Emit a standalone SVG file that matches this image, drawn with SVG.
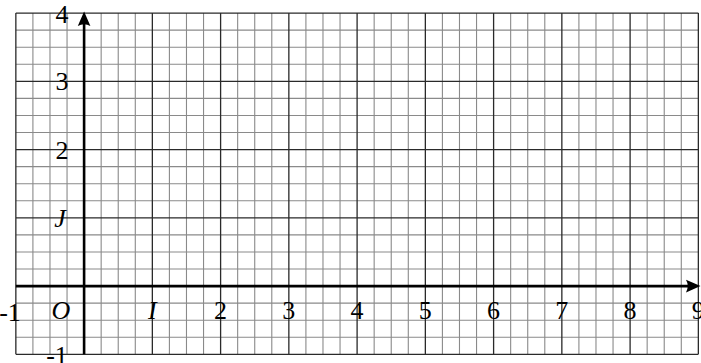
<svg xmlns="http://www.w3.org/2000/svg" width="701" height="363" viewBox="0 0 701 363">
<style>
.minor{stroke:#8a8a8a;stroke-width:1.1;fill:none}
.major{stroke:#2a2a2a;stroke-width:1.3;fill:none}
.axis{stroke:#000;stroke-width:2.6;fill:none}
.head{fill:#000;stroke:none}
text{font-family:"Liberation Serif","DejaVu Serif",serif;font-size:26px;fill:#000;text-anchor:middle}
.it{font-style:italic}
</style>
<rect width="701" height="363" fill="#fff"/>
<g id="grid">
<path class="minor" d="M32.91 13.1V354.35M49.98 13.1V354.35M67.04 13.1V354.35M101.16 13.1V354.35M118.23 13.1V354.35M135.29 13.1V354.35M169.41 13.1V354.35M186.48 13.1V354.35M203.54 13.1V354.35M237.66 13.1V354.35M254.73 13.1V354.35M271.79 13.1V354.35M305.91 13.1V354.35M322.98 13.1V354.35M340.04 13.1V354.35M374.16 13.1V354.35M391.23 13.1V354.35M408.29 13.1V354.35M442.41 13.1V354.35M459.48 13.1V354.35M476.54 13.1V354.35M510.66 13.1V354.35M527.73 13.1V354.35M544.79 13.1V354.35M578.91 13.1V354.35M595.98 13.1V354.35M613.04 13.1V354.35M647.16 13.1V354.35M664.23 13.1V354.35M681.29 13.1V354.35M15.85 30.16H698.35M15.85 47.23H698.35M15.85 64.29H698.35M15.85 98.41H698.35M15.85 115.48H698.35M15.85 132.54H698.35M15.85 166.66H698.35M15.85 183.73H698.35M15.85 200.79H698.35M15.85 234.91H698.35M15.85 251.98H698.35M15.85 269.04H698.35M15.85 303.16H698.35M15.85 320.23H698.35M15.85 337.29H698.35"/>
<path class="major" d="M15.85 13.1V354.35M84.1 13.1V354.35M152.35 13.1V354.35M220.6 13.1V354.35M288.85 13.1V354.35M357.1 13.1V354.35M425.35 13.1V354.35M493.6 13.1V354.35M561.85 13.1V354.35M630.1 13.1V354.35M698.35 13.1V354.35M15.85 13.1H698.35M15.85 81.35H698.35M15.85 149.6H698.35M15.85 217.85H698.35M15.85 286.1H698.35M15.85 354.35H698.35"/>
</g>
<g id="axes">
<path class="axis" d="M15.85 286.1H691"/>
<path class="head" d="M700.5 286.1L686 279.8Q689.5 286.1 686 292.4Z"/>
<path class="axis" d="M84.1 354.35V20"/>
<path class="head" d="M84.1 11.5L77.8 26Q84.1 22.5 90.4 26Z"/>
</g>
<g id="labels">
<text x="62" y="22.5">4</text>
<text x="62" y="90">3</text>
<text x="62" y="158.5">2</text>
<text x="60" y="227" class="it">J</text>
<text x="61" y="319" class="it">O</text>
<text x="10" y="321">-1</text>
<text x="57" y="364">-1</text>
<text x="152.35" y="319" class="it">I</text>
<text x="220.6" y="319">2</text>
<text x="288.85" y="319">3</text>
<text x="357.1" y="319">4</text>
<text x="425.35" y="319">5</text>
<text x="493.6" y="319">6</text>
<text x="561.85" y="319">7</text>
<text x="630.1" y="319">8</text>
<text x="698.35" y="319">9</text>
</g>
</svg>
